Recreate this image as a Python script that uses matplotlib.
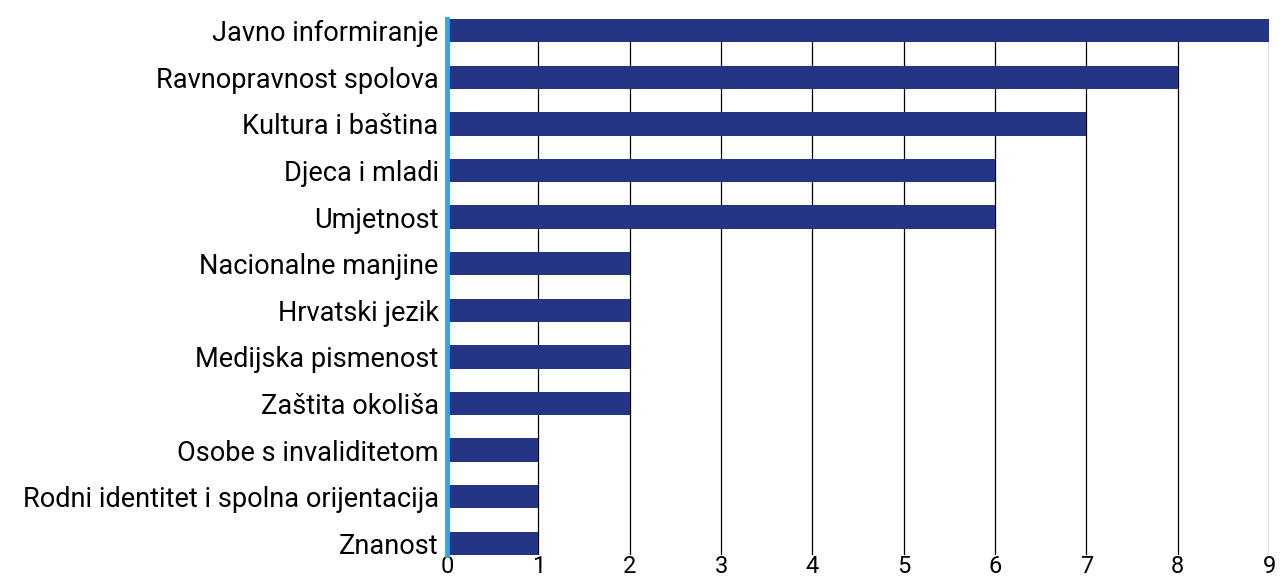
import matplotlib
matplotlib.use('Agg')
import matplotlib.pyplot as plt
from matplotlib import rcParams
rcParams['font.family'] = ['Roboto', 'DejaVu Sans']

# podaci
kategorije = ['Javno informiranje',
              'Ravnopravnost spolova',
              'Kultura i baština',
              'Djeca i mladi',
              'Umjetnost',
              'Nacionalne manjine',
              'Hrvatski jezik',
              'Medijska pismenost',
              'Zaštita okoliša',
              'Osobe s invaliditetom',
              'Rodni identitet i spolna orijentacija',
              'Znanost']
vrijednosti = [9, 8, 7, 6, 6, 2, 2, 2, 2, 1, 1, 1]
x_ticks = [0, 1, 2, 3, 4, 5, 6, 7, 8, 9]

fig = plt.figure(figsize=(12.81, 5.78), dpi=100)
ax = fig.add_axes([447 / 1281, 23 / 578, (1269 - 447) / 1281, (557 - 21) / 578])

y = list(range(len(kategorije)))[::-1]
ax.barh(y, vrijednosti, height=0.5, color='#253586', zorder=2)

ax.set_xlim(0, 9)
ax.set_ylim(-0.25, 11.25)
ax.set_xticks(x_ticks)
ax.set_xticklabels([str(t) for t in x_ticks], fontsize=17)
ax.set_yticks(y)
ax.set_yticklabels(kategorije, fontsize=19.5)
ax.tick_params(axis='both', length=0)
ax.tick_params(axis='y', pad=6)
ax.tick_params(axis='x', pad=0)

ax.xaxis.grid(True, color='black', linewidth=0.9, zorder=1)
ax.set_axisbelow(True)

for s in ['top', 'right', 'bottom']:
    ax.spines[s].set_visible(False)
ax.spines['left'].set_color('#29aae1')
ax.spines['left'].set_linewidth(3.5)
ax.spines['left'].set_zorder(3)

fig.savefig('out.png', dpi=100)
plt.close()
